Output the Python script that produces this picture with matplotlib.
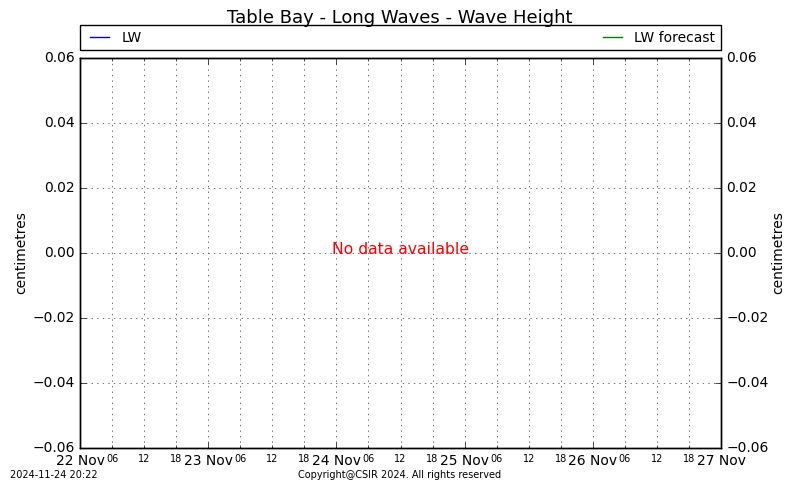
from datetime import datetime

import matplotlib
matplotlib.use('Agg')
import matplotlib.pyplot as plt
import matplotlib.dates as mdates

# No measurements or forecast were available for this period.
lw_times, lw_heights = [], []
forecast_times, forecast_heights = [], []

x_start = datetime(2024, 11, 22)
x_end = datetime(2024, 11, 27)
y_limits = (-0.06, 0.06)
y_ticks = [-0.06, -0.04, -0.02, 0.00, 0.02, 0.04, 0.06]


def fmt_height(v, pos=None):
    return ('%.2f' % v).replace('-', '\u2212')


plt.style.use('classic')
fig = plt.figure(figsize=(8, 4.8), dpi=100)
ax = fig.add_axes([0.1, 0.0667, 0.8013, 0.8125])

ax.plot(lw_times, lw_heights, color='blue', label='LW')
ax.plot(forecast_times, forecast_heights, color='green', label='LW forecast')

ax.set_xlim(x_start, x_end)
ax.set_ylim(*y_limits)
ax.set_yticks(y_ticks)
ax.yaxis.set_major_formatter(plt.FuncFormatter(fmt_height))
ax.set_ylabel('centimetres', fontsize=10, labelpad=3)

ax.xaxis.set_major_locator(mdates.DayLocator())
ax.xaxis.set_major_formatter(mdates.DateFormatter('%d %b'))
ax.xaxis.set_minor_locator(mdates.HourLocator(byhour=[6, 12, 18]))
ax.xaxis.set_minor_formatter(mdates.DateFormatter('%H'))
ax.tick_params(axis='x', which='minor', labelsize=7)
ax.tick_params(axis='both', which='major', labelsize=10)
ax.grid(True, which='both', color='0.35', linestyle=':', linewidth=0.6)

ax2 = ax.twinx()
ax2.set_ylim(*y_limits)
ax2.set_yticks(y_ticks)
ax2.yaxis.set_major_formatter(plt.FuncFormatter(fmt_height))
ax2.set_ylabel('centimetres', fontsize=10, labelpad=1.5)
ax2.tick_params(axis='y', labelsize=10)

ax.legend(bbox_to_anchor=(0.0, 1.02, 1.0, 0.062), loc='lower left', ncol=2,
          mode='expand', borderaxespad=0.0, fontsize=10, frameon=True,
          handletextpad=0.6)

ax.text(0.5, 0.51, 'No data available', color='red', fontsize=11.25,
        ha='center', va='center', transform=ax.transAxes)

fig.text(0.5, 1 - 18 / 480, 'Table Bay - Long Waves - Wave Height',
         fontsize=13, ha='center', va='center')
fig.text(0.0125, 0.004, '2024-11-24 20:22', fontsize=7)
fig.text(0.5, 0.004, 'Copyright@CSIR 2024. All rights reserved', fontsize=7,
         ha='center')

fig.savefig('out.png', dpi=100)
